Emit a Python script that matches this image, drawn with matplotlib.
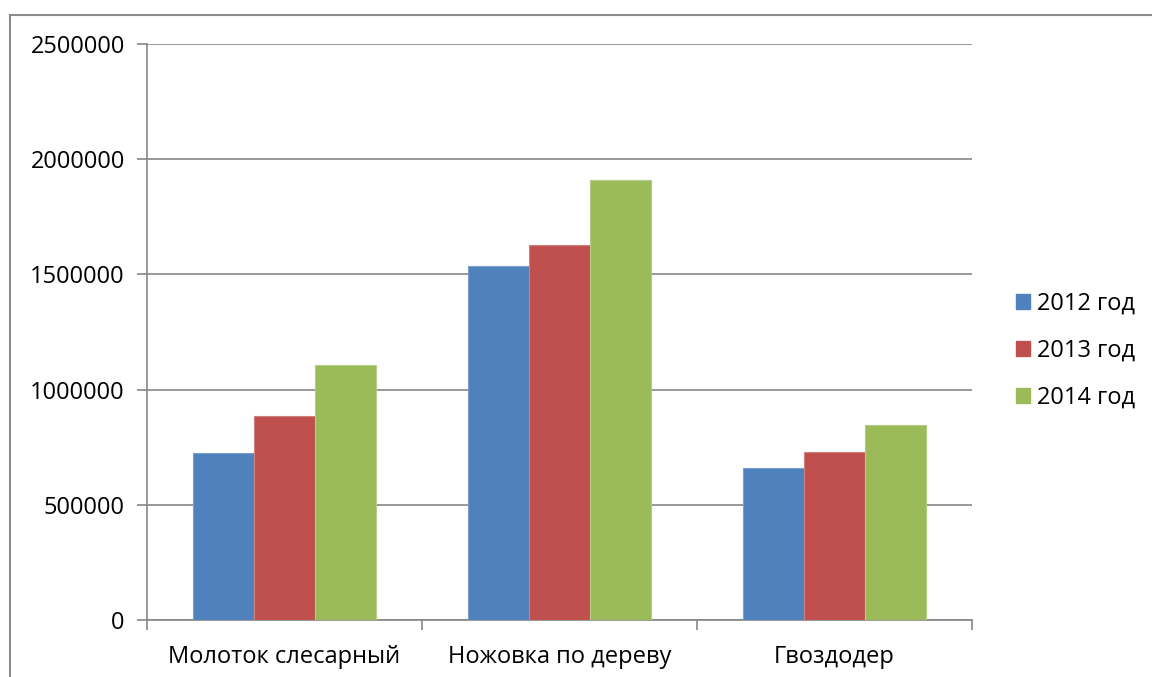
#!/usr/bin/env python3

import numpy as np
import matplotlib.pyplot as plt
from matplotlib.lines import Line2D
from matplotlib.patches import Patch

categories = ["Молоток слесарный", "Ножовка по дереву", "Гвоздодер"]
years = ["2012 год", "2013 год", "2014 год"]
values_2012 = [725000, 1536000, 661000]
values_2013 = [884000, 1627000, 731000]
values_2014 = [1107000, 1910000, 845000]
yticks = [0, 500000, 1000000, 1500000, 2000000, 2500000]

colors = ["#4F81BD", "#C0504D", "#9BBB59"]
edges = ["#7BA0CD", "#D0807E", "#B5CC88"]
grid_col = "#868686"
fs = 17.0

plt.rcParams["font.family"] = ["Open Sans", "DejaVu Sans"]

fig = plt.figure(figsize=(11.52, 6.77), dpi=100)
ax = fig.add_axes([147 / 1152, 57 / 677, 825 / 1152, 576 / 677])

# outer chart border (partly cut off in the original)
fig.add_artist(Line2D([10 / 1152, 1.0], [1 - 15 / 677] * 2, color="#8c8c8c", lw=1.5))
fig.add_artist(Line2D([10 / 1152] * 2, [0, 1 - 15 / 677], color="#8c8c8c", lw=1.5))

x = np.arange(len(categories))
gap = 1.5
w = 1.0 / (3 + gap)
series = [values_2012, values_2013, values_2014]
for i, vals in enumerate(series):
    ax.bar(x + (i - 1) * w, vals, width=w, color=colors[i], edgecolor=edges[i],
           linewidth=0.8, zorder=3, label=years[i])

ax.set_xlim(-0.5, len(categories) - 0.5)
ax.set_ylim(0, 2500000)
ax.set_yticks(yticks)
ax.set_yticklabels([str(v) for v in yticks], fontsize=fs)
ax.yaxis.grid(True, color=grid_col, lw=1.2, zorder=0)

# category labels between boundary ticks
ax.set_xticks(x)
ax.set_xticklabels(categories, fontsize=fs)
ax.tick_params(axis="x", length=0, pad=18)
ax.set_xticks(np.arange(len(categories) + 1) - 0.5, minor=True)
ax.tick_params(axis="x", which="minor", length=7, width=1.2, color=grid_col, direction="out")
ax.tick_params(axis="y", length=7, width=1.2, color=grid_col, pad=9)

for side in ["top", "right"]:
    ax.spines[side].set_visible(False)
for side in ["left", "bottom"]:
    ax.spines[side].set_color(grid_col)
    ax.spines[side].set_linewidth(1.2)

handles = [Patch(facecolor=c, edgecolor=c) for c in colors]
fig.legend(handles, years, loc="center left", bbox_to_anchor=(1004 / 1152, 1 - 351 / 677),
           frameon=False, fontsize=fs, handlelength=0.6, handleheight=0.6,
           handletextpad=0.3, labelspacing=0.97, borderpad=0)

fig.savefig("out.png", dpi=100)
